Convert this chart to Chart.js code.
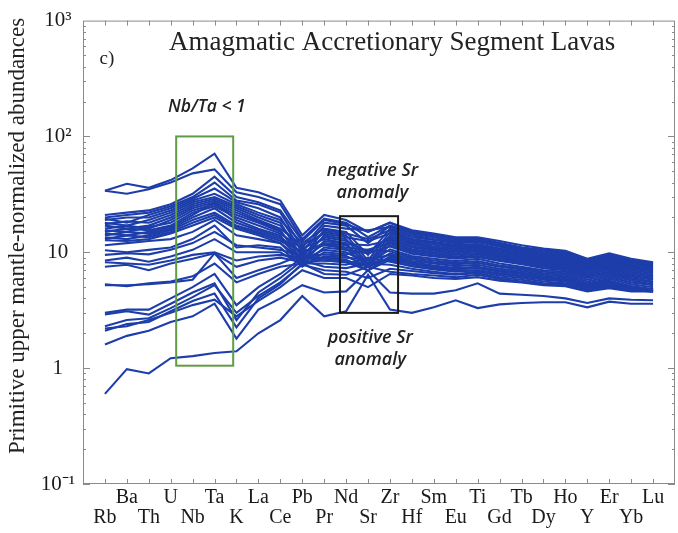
<!DOCTYPE html>
<html><head><meta charset="utf-8">
<script src="https://cdn.jsdelivr.net/npm/chart.js@4"></script>
<style>html,body{margin:0;padding:0;background:#fff}</style>
</head><body>
<canvas id="c" width="678" height="533"></canvas>
<script>
// ---- categories (x axis) ----
const elements = ['Rb','Ba','Th','U','Nb','Ta','K','La','Ce','Pb','Pr','Nd','Sr','Zr','Hf','Sm','Eu','Ti','Gd','Tb','Dy','Ho','Y','Er','Yb','Lu'];
// ---- y tick labels ----
const yTickValues = [0.1, 1, 10, 100, 1000];
const yTickLabels = ['10\u207B\u00B9', '1', '10', '10\u00B2', '10\u00B3'];

// ---- series (primitive-upper-mantle-normalized abundances, one array per sample) ----
//            Rb   Ba   Th   U    Nb   Ta   K    La   Ce   Pb   Pr   Nd   Sr   Zr   Hf   Sm   Eu   Ti   Gd   Tb   Dy   Ho   Y    Er   Yb   Lu
const a1  = [34,  39,  36,  42,  53,  71,  36,  33,  28,  14,  21,  19,  15,  18,  15.5,14.5,13.5,13.5,12.5,11.5,10.8,10.3,8.8, 9.8, 8.8, 8.2];
const a2  = [34,  32,  35,  40,  48,  52,  33,  30,  26,  13,  19.5,18, 13.5,17,  15,  14,  13,  13.2,12,  11,  10.5,10,  8.6, 9.5, 8.5, 8.0];
const b1  = [21,  22,  23,  26,  32,  45,  30,  27,  23,  12.5,19,  17.5,15, 18,  15,  14,  13,  13,  12,  11,  10.3,9.8, 8.6, 9.4, 8.5, 8.0];
const b2  = [20,  21,  22,  25,  30,  40,  28,  26,  22,  11,  18,  17,  12,  17,  14.5,13.5,12.5,12.8,11.8,10.8,10,  9.6, 8.4, 9.2, 8.3, 7.8];
const b3  = [19.5,18,  21,  24,  29,  35.5,27,  24,  20,  10,  17,  16,  15.5,16.5,14,  13,  12.2,12.5,11.5,10.5,9.8, 9.4, 8.2, 9.0, 8.1, 7.6];
const b4  = [19,  20,  20,  23,  28,  32,  26,  22,  19,  12,  16,  15,  9.5, 16,  13.5,12.8,12,  12.2,11.2,10.2,9.5, 9.2, 8.0, 8.8, 7.9, 7.5];
const b5  = [18,  17,  19,  22,  27,  30,  25,  21,  18,  9.0, 15.5,14.5,13,  15.5,13,  12.3,11.6,11.8,10.8,10,  9.3, 9.0, 7.8, 8.6, 7.7, 7.3];
const b6  = [17.5,18.5,18,  21,  26,  29,  24,  20,  17,  10.5,15,  14,  8.5, 15,  12.7,12,  11.3,11.5,10.6,9.8, 9.1, 8.8, 7.6, 8.4, 7.5, 7.1];
const b7  = [17,  16,  17,  20,  25,  28,  23,  19,  16,  11.5,14.5,13.5,12.5,14.5,12.3,11.6,11,  11.2,10.3,9.5, 8.9, 8.6, 7.5, 8.2, 7.3, 7.0];
const b8  = [16,  17,  16,  19,  24,  27,  22,  18.5,15.5,8.5, 14,  13,  8.0, 14,  12,  11.2,10.7,11,  10,  9.3, 8.7, 8.4, 7.3, 8.0, 7.2, 6.8];
const b9  = [15.5,15,  16.5,18,  23,  26,  21,  18,  15,  9.5, 13.5,12.5,10,  13.5,11.6,10.9,10.4,10.7,9.8, 9.1, 8.5, 8.2, 7.1, 7.8, 7.0, 6.6];
const b10 = [15,  16,  15.5,17,  22,  25,  20,  17,  14.5,10.8,13,  12,  7.5, 13,  11.2,10.6,10.1,10.4,9.5, 8.9, 8.3, 8.0, 7.0, 7.6, 6.8, 6.4];
const b11 = [14.5,14,  15,  16.5,21,  27,  19,  16,  14,  8.0, 12.5,11.8,11.5,12.7,11,  10.3,9.8, 10.2,9.3, 8.7, 8.1, 7.8, 6.8, 7.4, 6.6, 6.2];
const b12 = [14,  15,  14.5,16,  20,  24,  18,  15.5,13.5,9.8, 12,  11.5,8.0, 12.3,10.6,10,  9.5, 9.9, 9.1, 8.5, 7.9, 7.6, 6.6, 7.2, 6.5, 6.1];
const b13 = [13.5,13,  14,  15.5,19,  22,  17,  15,  13,  8.8, 11.8,11,  10.5,12,  10.3,9.7, 9.2, 9.6, 8.9, 8.3, 7.7, 7.4, 6.5, 7.0, 6.3, 5.9];
const b14 = [13,  14,  13.5,15,  18,  21,  16.5,14.5,12.5,10.2,11.5,10.8,7.5, 11.6,10,  9.4, 9.0, 9.3, 8.6, 8.1, 7.5, 7.2, 6.3, 6.8, 6.2, 5.8];
const b15 = [12.7,12.5,13,  14.5,17,  20,  16,  14,  12,  7.8, 11,  10.5,9.8, 11.2,9.7, 9.2, 8.8, 9.1, 8.4, 7.9, 7.3, 7.0, 6.2, 6.7, 6.0, 5.6];
const c1  = [11.5,12,  12.5,13,  15,  19,  14,  13,  12,  8.6, 10.5,10,  8.0, 10.6,9.3, 8.8, 8.4, 8.8, 8.0, 7.5, 7.0, 6.8, 6.0, 6.5, 5.9, 5.5];
const c2  = [10.4,10,  10.5,11,  13,  17,  11,  11.5,11,  7.5, 10,  9.6, 10.5,10.2,9.0, 8.5, 8.1, 8.4, 7.7, 7.3, 6.8, 6.6, 5.8, 6.3, 5.7, 5.3];
const c3  = [9.5, 9.8, 9.6, 10.5,12,  15,  11.5,11,  10.5,9.2, 9.6, 9.3, 7.5, 9.8, 8.7, 8.2, 7.9, 8.1, 7.5, 7.1, 6.6, 6.4, 5.6, 6.1, 5.5, 5.2];
const c4  = [8.5, 9.0, 8.3, 9.2, 10.5,13,  10,  10,  10,  7.8, 9.2, 9.0, 8.6, 9.5, 8.4, 8.0, 7.6, 7.8, 7.2, 6.9, 6.4, 6.2, 5.4, 5.9, 5.3, 5.0];
const c5  = [8.2, 8.0, 7.8, 8.5, 9.5, 10,  8.5, 9.2, 9.5, 9.0, 9.0, 8.6, 7.0, 9.2, 8.2, 7.7, 7.3, 7.5, 7.0, 6.7, 6.2, 6.0, 5.3, 5.7, 5.1, 4.8];
const c6  = [7.5, 7.8, 7.0, 8.0, 8.8, 9.8, 7.5, 8.5, 9.0, 8.2, 8.5, 8.2, 8.0, 8.8, 7.9, 7.4, 7.1, 7.3, 6.8, 6.5, 6.0, 5.8, 5.1, 5.5, 5.0, 4.7];
const d1  = [5.2, 5.2, 5.3, 5.5, 5.8, 9.8, 6.0, 7.0, 8.0, 9.5, 8.8, 8.5, 7.5, 9.0, 8.0, 7.5, 7.2, 7.4, 6.9, 6.6, 6.1, 5.9, 5.2, 5.6, 5.1, 4.8];
const d2  = [5.3, 5.1, 5.4, 5.6, 6.2, 8.0, 5.5, 6.5, 7.5, 8.0, 8.0, 7.8, 9.0, 8.3, 7.6, 7.2, 6.9, 7.0, 6.6, 6.3, 5.9, 5.7, 5.0, 5.4, 4.9, 4.6];
const e1  = [3.0, 3.2, 3.2, 4.0, 5.0, 6.5, 3.5, 5.0, 6.5, 9.0, 8.5, 8.2, 7.0, 8.6, 7.6, 7.1, 6.8, 7.0, 6.5, 6.2, 5.8, 5.6, 4.9, 5.3, 4.8, 4.6];
const e2  = [2.9, 3.1, 2.9, 3.6, 4.5, 5.4, 2.6, 4.5, 6.0, 8.5, 7.5, 7.3, 8.0, 7.8, 7.2, 6.8, 6.5, 6.8, 6.3, 6.0, 5.6, 5.4, 4.8, 5.2, 4.7, 4.6];
const e3  = [2.3, 2.6, 2.7, 3.3, 4.1, 5.2, 3.0, 4.2, 5.5, 7.8, 7.0, 6.8, 6.0, 7.2, 6.9, 6.6, 6.4, 6.6, 6.1, 5.8, 5.4, 5.3, 4.7, 5.1, 4.7, 4.7];
const e4  = [2.1, 2.4, 2.5, 3.1, 3.8, 4.4, 2.25,4.0, 5.3, 8.0, 6.5, 6.4, 7.5, 6.8, 6.5, 6.3, 6.1, 6.4, 5.9, 5.6, 5.3, 5.2, 4.7, 5.0, 4.7, 4.6];
const e5  = [2.2, 2.3, 2.6, 3.0, 3.5, 3.9, 2.8, 3.8, 5.0, 7.0, 6.0, 6.0, 5.0, 6.5, 6.3, 6.0, 5.9, 6.1, 5.7, 5.5, 5.2, 5.1, 4.6, 4.9, 4.6, 4.6];
const e6  = [1.6, 1.9, 2.1, 2.5, 2.8, 3.6, 1.8, 3.2, 4.0, 5.2, 4.5, 4.6, 7.0, 4.5, 4.4, 4.4, 4.7, 5.4, 4.4, 4.3, 4.2, 4.0, 3.65,4.0, 3.9, 3.85];
const e7  = [0.6, 0.98,0.9, 1.22,1.27,1.35,1.4, 2.0, 2.6, 4.2, 2.8, 3.1, 6.4, 3.2, 3.0, 3.35,3.85,3.3, 3.55,3.65,3.7, 3.7, 3.35,3.75,3.6, 3.6];
const samples = [a1,a2,b1,b2,b3,b4,b5,b6,b7,b8,b9,b10,b11,b12,b13,b14,b15,c1,c2,c3,c4,c5,c6,d1,d2,e1,e2,e3,e4,e5,e6,e7];

// ---- highlighted boxes (data coordinates: element index, abundance) ----
const nbTaBoxX = [3.25, 5.85];
const nbTaBoxY = [1.05, 100];
const srBoxX = [10.72, 13.37];
const srBoxY = [3.0, 20.5];

// ---- annotation texts (data coordinates) ----
const notes = [
  {text: 'Amagmatic Accretionary Segment Lavas', x: 13.1, y: 640, font: '27px "Liberation Serif"', align: 'center', color: '#222'},
  {text: 'c)', x: -0.25, y: 470, font: '19px "Liberation Serif"', align: 'left', color: '#222'},
  {text: 'Nb/Ta < 1', x: 4.65, y: 180, font: 'italic 600 17.5px "Open Sans"', align: 'center', color: '#222'},
  {text: 'negative Sr', x: 12.2, y: 50, font: 'italic 600 18px "Open Sans"', align: 'center', color: '#222'},
  {text: 'anomaly', x: 12.2, y: 32.5, font: 'italic 600 18px "Open Sans"', align: 'center', color: '#222'},
  {text: 'positive Sr', x: 12.1, y: 1.82, font: 'italic 600 18px "Open Sans"', align: 'center', color: '#222'},
  {text: 'anomaly', x: 12.1, y: 1.17, font: 'italic 600 18px "Open Sans"', align: 'center', color: '#222'}
];
const yTitle = 'Primitive upper mantle-normalized abundances';

const lineColor = '#1d3eaa';
const datasets = samples.map((s) => ({
  data: s.map((v, i) => ({x: i, y: v})),
  borderColor: lineColor,
  borderWidth: 2.1,
  pointRadius: 0,
  fill: false,
  tension: 0
}));

const decor = {
  id: 'decor',
  afterDatasetsDraw(chart) {
    const ctx = chart.ctx;
    const xs = chart.scales.x, ys = chart.scales.y;
    const a = chart.chartArea;
    ctx.save();
    // boxes
    ctx.lineWidth = 2;
    ctx.strokeStyle = '#5f9c45';
    let x0 = xs.getPixelForValue(nbTaBoxX[0]), x1 = xs.getPixelForValue(nbTaBoxX[1]);
    let y0 = ys.getPixelForValue(nbTaBoxY[1]), y1 = ys.getPixelForValue(nbTaBoxY[0]);
    ctx.strokeRect(x0, y0, x1 - x0, y1 - y0);
    ctx.strokeStyle = '#1a1a1a';
    x0 = xs.getPixelForValue(srBoxX[0]); x1 = xs.getPixelForValue(srBoxX[1]);
    y0 = ys.getPixelForValue(srBoxY[1]); y1 = ys.getPixelForValue(srBoxY[0]);
    ctx.strokeRect(x0, y0, x1 - x0, y1 - y0);
    // frame
    ctx.lineWidth = 1;
    ctx.strokeStyle = '#8a8a8a';
    ctx.strokeRect(a.left + 0.5, a.top + 0.5, a.right - a.left - 1, a.bottom - a.top - 1);
    // x ticks (inward, bottom and top)
    elements.forEach((e, i) => {
      const px = Math.round(xs.getPixelForValue(i)) + 0.5;
      ctx.beginPath();
      ctx.moveTo(px, a.bottom); ctx.lineTo(px, a.bottom - 5);
      ctx.moveTo(px, a.top); ctx.lineTo(px, a.top + 5);
      ctx.stroke();
    });
    // y ticks (log, inward, left and right)
    for (let d = -1; d <= 2; d++) {
      for (let m = 1; m <= 9; m++) {
        const v = m * Math.pow(10, d);
        const py = Math.round(ys.getPixelForValue(v)) + 0.5;
        const len = m === 1 ? 7 : 3;
        ctx.beginPath();
        ctx.moveTo(a.left, py); ctx.lineTo(a.left + len, py);
        ctx.moveTo(a.right, py); ctx.lineTo(a.right - len, py);
        ctx.stroke();
      }
    }
    // notes
    ctx.textBaseline = 'middle';
    notes.forEach(n => {
      ctx.font = n.font;
      ctx.fillStyle = n.color;
      ctx.textAlign = n.align;
      ctx.fillText(n.text, xs.getPixelForValue(n.x), ys.getPixelForValue(n.y));
    });
    // y title
    ctx.translate(18, 236);
    ctx.rotate(-Math.PI / 2);
    ctx.font = '23px "Liberation Serif"';
    ctx.fillStyle = '#222';
    ctx.textAlign = 'center';
    ctx.fillText(yTitle, 0, 0);
    ctx.restore();
  }
};

new Chart(document.getElementById('c'), {
  type: 'line',
  data: {datasets},
  options: {
    responsive: false,
    animation: false,
    events: [],
    layout: {padding: {top: 18, right: 3, left: 0, bottom: 0}},
    plugins: {legend: {display: false}, tooltip: {enabled: false}},
    scales: {
      x: {
        type: 'linear', min: -1, max: 26,
        grid: {display: false},
        border: {display: false},
        afterBuildTicks: (s) => { s.ticks = elements.map((e, i) => ({value: i})); },
        afterFit: (s) => { s.height = 49; },
        ticks: {
          autoSkip: false, maxRotation: 0, minRotation: 0, padding: -4,
          color: '#1a1a1a',
          font: {family: '"Liberation Serif"', size: 20, lineHeight: 1.0},
          callback: (v) => {
            const i = Math.round(v);
            const name = elements[i] || '';
            return i % 2 === 1 ? [name, ' '] : [' ', name];
          }
        }
      },
      y: {
        type: 'logarithmic', min: 0.1, max: 1000,
        grid: {display: false, drawTicks: false},
        border: {display: false},
        afterBuildTicks: (s) => { s.ticks = yTickValues.map(v => ({value: v, major: true})); },
        afterFit: (s) => { s.width = 83; },
        ticks: {
          autoSkip: false, padding: 8, crossAlign: 'center',
          color: '#1a1a1a',
          font: {family: '"Liberation Serif"', size: 21},
          callback: (v) => {
            const k = yTickValues.findIndex(t => Math.abs(t - v) / t < 1e-6);
            return k >= 0 ? yTickLabels[k] : '';
          }
        }
      }
    }
  },
  plugins: [decor]
});
</script>
</body></html>
